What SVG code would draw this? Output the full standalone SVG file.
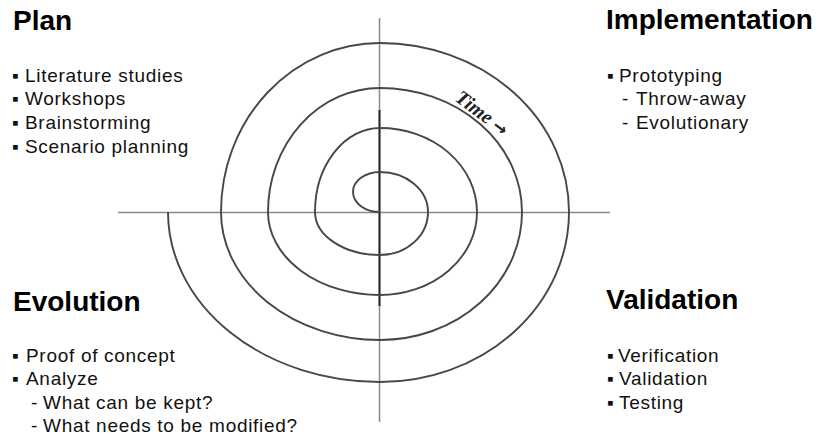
<svg xmlns="http://www.w3.org/2000/svg" width="821" height="440" viewBox="0 0 821 440">
  <style>
    .title { font-family: "Liberation Sans", Arial, sans-serif; font-weight: bold; font-size: 28px; fill: #000; }
    .item { font-family: "Liberation Sans", Arial, sans-serif; font-size: 19px; letter-spacing: 0.7px; fill: #111; }
    .axis { stroke: #8a8a8a; stroke-width: 1.5; fill: none; }
    .axis-dark { stroke: #262626; stroke-width: 2; fill: none; }
    .spiral { stroke: #474747; stroke-width: 1.9; fill: none; }
    .time { font-family: "Liberation Serif", "Times New Roman", serif; font-style: italic; font-weight: bold; font-size: 20px; fill: #222; }
    .arrow { font-family: "DejaVu Sans", sans-serif; font-style: normal; font-weight: bold; font-size: 17px; }
  </style>
  <rect width="821" height="440" fill="#fff"/>

  <g id="connectors">
    <line class="axis" x1="118" y1="212.5" x2="610" y2="212.5"/>
    <line class="axis" x1="379.5" y1="18" x2="379.5" y2="422"/>
    <line class="axis-dark" x1="379.5" y1="110" x2="379.5" y2="306"/>
    <path class="spiral" d="M380 212 A27 20 0 0 1 353 192 A27 20 0 0 1 380 172 A48 40 0 0 1 428 212 A48 43 0 0 1 380 255 A65 43 0 0 1 315 212 A65 84 0 0 1 380 128 A97 84 0 0 1 477 212 A97 83 0 0 1 380 295 A112 83 0 0 1 268 212 A112 124 0 0 1 380 88 A142 124 0 0 1 522 212 A142 128 0 0 1 380 340 A160 128 0 0 1 221 212 A159 169 0 0 1 380 43 A189 169 0 0 1 569 212 A189 170 0 0 1 380 382 A212 170 0 0 1 168 212"/>
    <text class="time" transform="translate(454 100) rotate(37)">Time <tspan class="arrow">→</tspan></text>
  </g>

  <g id="plan">
    <text class="title" x="13" y="30">Plan</text>
    <text class="item" y="81.5"><tspan x="12">▪</tspan><tspan x="25">Literature studies</tspan></text>
    <text class="item" y="105"><tspan x="12">▪</tspan><tspan x="25">Workshops</tspan></text>
    <text class="item" y="129"><tspan x="12">▪</tspan><tspan x="25">Brainstorming</tspan></text>
    <text class="item" y="153"><tspan x="12">▪</tspan><tspan x="25">Scenario planning</tspan></text>
  </g>

  <g id="implementation">
    <text class="title" x="606" y="29">Implementation</text>
    <text class="item" y="81.5"><tspan x="607">▪</tspan><tspan x="619">Prototyping</tspan></text>
    <text class="item" y="105"><tspan x="622">-</tspan><tspan x="636">Throw-away</tspan></text>
    <text class="item" y="129"><tspan x="622">-</tspan><tspan x="636">Evolutionary</tspan></text>
  </g>

  <g id="evolution">
    <text class="title" x="13" y="310.5">Evolution</text>
    <text class="item" y="361.5"><tspan x="12">▪</tspan><tspan x="26">Proof of concept</tspan></text>
    <text class="item" y="385"><tspan x="12">▪</tspan><tspan x="26">Analyze</tspan></text>
    <text class="item" y="408.5"><tspan x="31">-</tspan><tspan x="43">What can be kept?</tspan></text>
    <text class="item" y="432"><tspan x="31">-</tspan><tspan x="43">What needs to be modified?</tspan></text>
  </g>

  <g id="validation">
    <text class="title" x="606" y="309">Validation</text>
    <text class="item" y="361.5"><tspan x="607">▪</tspan><tspan x="618">Verification</tspan></text>
    <text class="item" y="385"><tspan x="607">▪</tspan><tspan x="619">Validation</tspan></text>
    <text class="item" y="408.5"><tspan x="607">▪</tspan><tspan x="619">Testing</tspan></text>
  </g>
</svg>
